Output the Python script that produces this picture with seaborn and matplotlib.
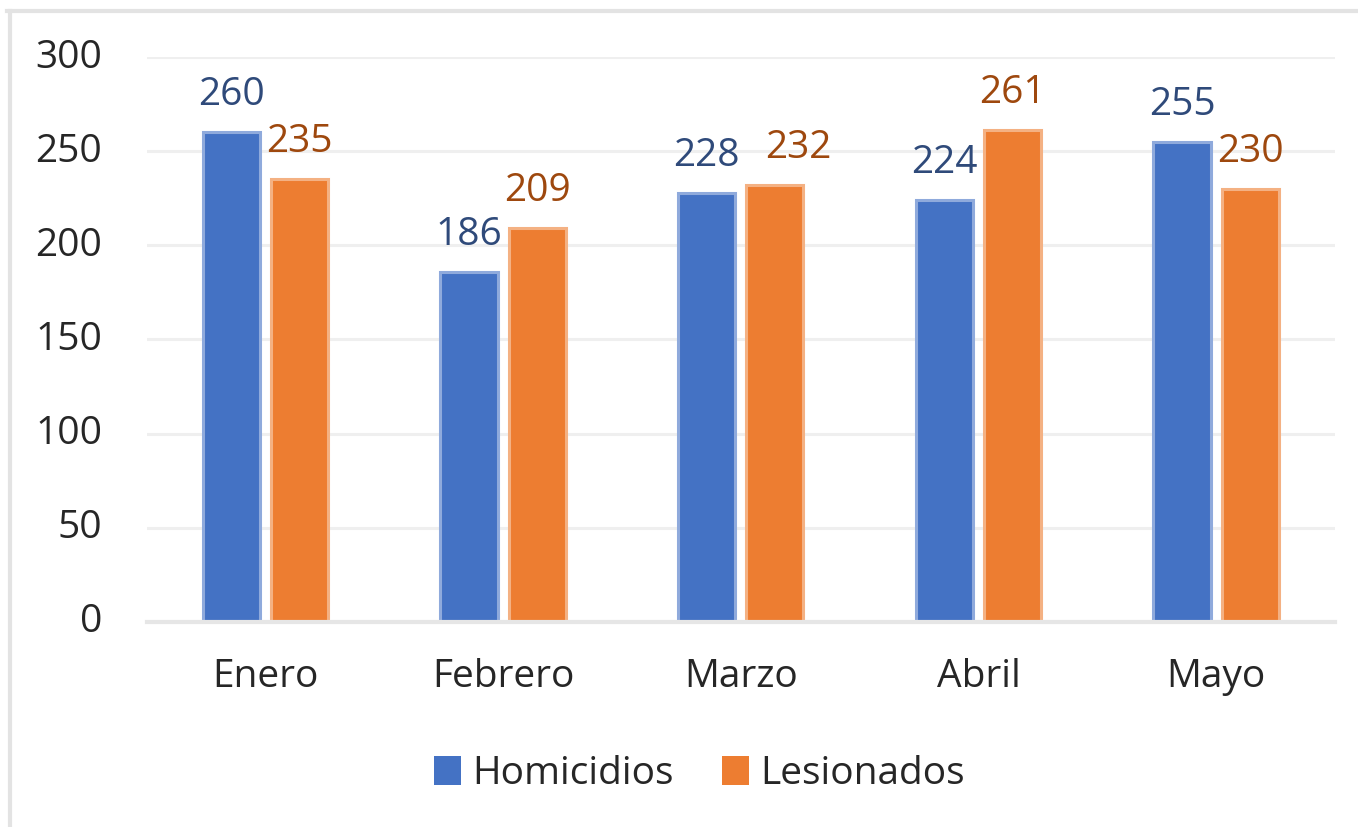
import numpy as np
import pandas as pd
import matplotlib
matplotlib.use("Agg")
import matplotlib.pyplot as plt
from matplotlib.lines import Line2D
from matplotlib.transforms import ScaledTranslation
import seaborn as sns

months = ["Enero", "Febrero", "Marzo", "Abril", "Mayo"]
homicidios = [260, 186, 228, 224, 255]
lesionados = [235, 209, 232, 261, 230]
series = ["Homicidios", "Lesionados"]
yticks = [0, 50, 100, 150, 200, 250, 300]

df = pd.DataFrame({
    "Mes": months * 2,
    "Valor": homicidios + lesionados,
    "Serie": [series[0]] * len(months) + [series[1]] * len(months),
})

plt.rcParams['font.family'] = ['Open Sans', 'DejaVu Sans']
FS = 28
PAD = 13

fig = plt.figure(figsize=(13.58, 8.27), dpi=100)
ax = fig.add_axes([0.108, 0.248, 0.875, 0.683])

fill_colors = ["#4472C4", "#ED7D31"]
edge_colors = ["#8FAADC", "#F4B183"]
label_colors = ["#2F4A7A", "#9E480E"]

sns.barplot(data=df, x="Mes", y="Valor", hue="Serie", order=months,
            hue_order=series, palette=fill_colors, width=0.573, gap=0.16,
            errorbar=None, saturation=1, linewidth=2.2, ax=ax)

label_sets = []
for cont, ec, lc in zip(ax.containers, edge_colors, label_colors):
    for p in cont:
        p.set_edgecolor(ec)
    label_sets.append(ax.bar_label(cont, padding=PAD, color=lc, fontsize=FS))

ax.set_ylim(0, 300)
ax.set_yticks(yticks)
ax.set_xlim(-0.5, len(months) - 0.5)
ax.set_xlabel("")
ax.set_ylabel("")
ax.grid(axis="y", color="#EFEFEF", linewidth=2.2)
ax.grid(axis="x", visible=False)
ax.set_axisbelow(True)
for s in ["top", "right", "left"]:
    ax.spines[s].set_visible(False)
ax.spines["bottom"].set_color("#E6E6E6")
ax.spines["bottom"].set_linewidth(3)
ax.tick_params(axis="both", length=0, labelsize=FS, labelcolor="#262626")
ax.tick_params(axis="x", pad=26)
ax.tick_params(axis="y", pad=32)
for t in ax.get_yticklabels():
    t.set_transform(t.get_transform() + ScaledTranslation(0, 4 / 100, fig.dpi_scale_trans))

handles, labels = ax.get_legend_handles_labels()
if ax.get_legend() is not None:
    ax.get_legend().remove()
fig.legend(handles, labels, loc="center", bbox_to_anchor=(0.515, 0.064),
           ncol=2, frameon=False, fontsize=FS, handlelength=0.69,
           handleheight=0.77, handletextpad=0.28, columnspacing=1.26,
           labelcolor="#262626")

fig.add_artist(Line2D([0.005, 1.0], [0.987, 0.987], transform=fig.transFigure,
                      color="#E3E3E3", linewidth=3))
fig.add_artist(Line2D([0.0074, 0.0074], [0.0, 0.987], transform=fig.transFigure,
                      color="#E3E3E3", linewidth=3))

# Avoid overlap between paired data labels (shift the right label, as Excel does)
fig.canvas.draw()
renderer = fig.canvas.get_renderer()
min_gap = 25  # pixels
for left_lab, right_lab in zip(label_sets[0], label_sets[1]):
    bl = left_lab.get_window_extent(renderer)
    br = right_lab.get_window_extent(renderer)
    if br.x0 < bl.x1 + min_gap and abs(bl.y0 - br.y0) < bl.height:
        shift_pts = (bl.x1 + min_gap - br.x0) * 72.0 / fig.dpi
        right_lab.xyann = (shift_pts, PAD)

fig.savefig("out.png", dpi=100, facecolor="white")
